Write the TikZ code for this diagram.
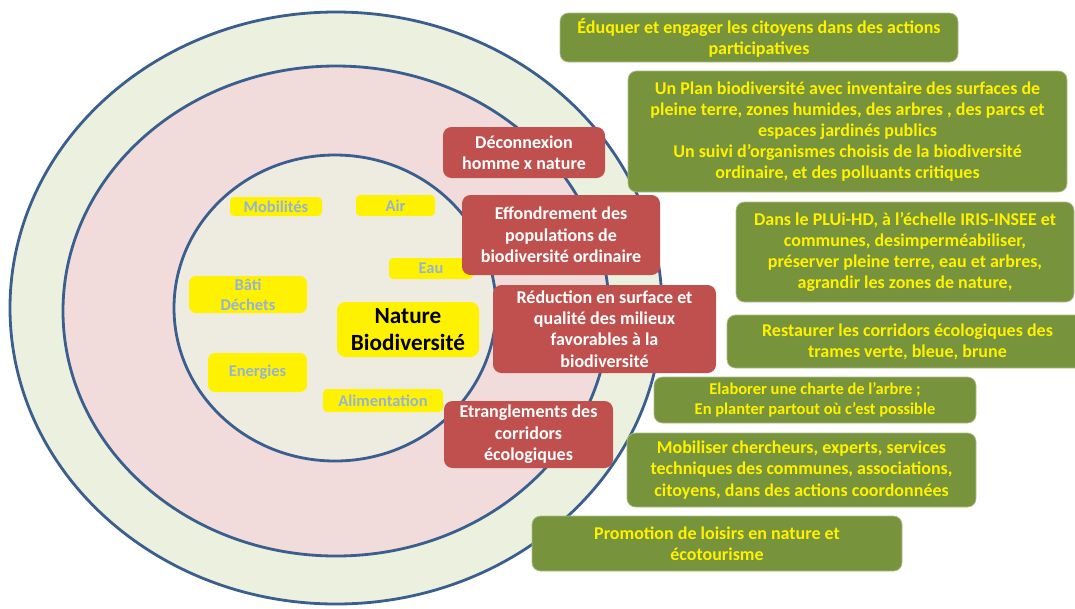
\documentclass[tikz,border=0pt]{standalone}
\usepackage{fontspec}
\setmainfont{Carlito}
\usetikzlibrary{positioning}

\definecolor{ringline}{HTML}{3A5F8E}
\definecolor{outerfill}{HTML}{EBF1DE}
\definecolor{midfill}{HTML}{F2DCDB}
\definecolor{innerfill}{HTML}{EEECE1}
\definecolor{redfill}{HTML}{C0504D}
\definecolor{greenfill}{HTML}{77933C}
\definecolor{labelblue}{HTML}{95B3D7}
\def\pxu{0.025cm}

\tikzset{
  ring/.style={draw=ringline, line width=2pt},
  redbox/.style={fill=redfill, rounded corners=6pt, text=white, align=center,
    inner sep=0pt, font=\bfseries\fontsize{12.8}{15.2}\selectfont},
  greenbox/.style={fill=greenfill, draw=greenfill!60!white, line width=0.5pt,
    rounded corners=6pt, text=yellow, align=center, inner sep=0pt,
    font=\bfseries\fontsize{12.8}{15}\selectfont},
  yellowbox/.style={fill=yellow, rounded corners=3pt, text=labelblue, align=center,
    inner sep=0pt, font=\bfseries\fontsize{11.7}{14.2}\selectfont},
}

\begin{document}
\begin{tikzpicture}[x=\pxu, y=-\pxu]
        \useasboundingbox (0,0) rectangle (1075,608);
        \draw[ring, fill=outerfill] (336,308) ellipse [x radius=326*\pxu, y radius=296*\pxu];
        \draw[ring, fill=midfill] (336,311) ellipse [x radius=273*\pxu, y radius=245*\pxu];
        \draw[ring, fill=innerfill] (335,308) ellipse [x radius=161*\pxu, y radius=153*\pxu];

        \node[yellowbox, minimum width=92*\pxu, minimum height=19*\pxu] (mob) at (276,206.5) {Mobilités};
        \node[yellowbox, minimum width=79*\pxu, minimum height=21*\pxu] (air) at (395.5,205.5) {Air};
        \node[yellowbox, minimum width=84*\pxu, minimum height=21*\pxu] (eau) at (431,268.5) {Eau};
        \node[yellowbox, rounded corners=5pt, minimum width=118*\pxu, minimum height=37*\pxu] (bati) at (248,294.5) {Bâti\\Déchets};
        \node[yellowbox, rounded corners=5pt, minimum width=99*\pxu, minimum height=39*\pxu] (ener) at (257.5,372.5) {Energies};
        \node[yellowbox, minimum width=120*\pxu, minimum height=23*\pxu] (alim) at (383,400.5) {Alimentation};
        \node[yellowbox, rounded corners=6pt, text=black, font=\bfseries\fontsize{16.5}{19.2}\selectfont,
          minimum width=142*\pxu, minimum height=55*\pxu] (nature) at (408,329.5) {Nature\\Biodiversité};

        \node[redbox, minimum width=162*\pxu, minimum height=51*\pxu] (decon) at (524,152.5) {Déconnexion\\homme x nature};
        \node[redbox, minimum width=198*\pxu, minimum height=80*\pxu] (effon) at (561,235) {Effondrement des\\populations de\\biodiversité ordinaire};
        \node[redbox, minimum width=223*\pxu, minimum height=88*\pxu] (reduc) at (604.5,329) {Réduction en surface et\\qualité  des milieux\\favorables à la\\biodiversité};
        \node[redbox, minimum width=169*\pxu, minimum height=67*\pxu] (etran) at (528.5,434.5) {Etranglements des\\corridors\\écologiques};

        \node[greenbox, minimum width=398*\pxu, minimum height=49*\pxu] (eduq) at (759,37.5) {Éduquer et engager  les citoyens dans des actions\\participatives};
        \node[greenbox, minimum width=439*\pxu, minimum height=121*\pxu] (plan) at (847.5,131.5) {Un Plan biodiversité  avec inventaire des surfaces de\\pleine  terre, zones humides,  des arbres , des parcs et\\espaces jardinés publics\\Un suivi d’organismes choisis de la biodiversité\\ordinaire, et des polluants critiques};
        \node[greenbox, minimum width=338*\pxu, minimum height=100*\pxu] (plui) at (905,252) {Dans le PLUi-HD, à l’échelle IRIS-INSEE et\\communes, desimperméabiliser,\\préserver pleine terre, eau  et arbres,\\agrandir les zones de nature,};
        \node[greenbox, minimum width=361*\pxu, minimum height=53*\pxu] (rest) at (907.5,341.5) {Restaurer les corridors écologiques des\\trames verte, bleue, brune};
        \node[greenbox, font=\bfseries\fontsize{11.7}{14}\selectfont, minimum width=322*\pxu, minimum height=46*\pxu] (elab) at (815,400) {Elaborer une  charte de l’arbre ;\\En planter partout où c’est possible};
        \node[greenbox, minimum width=349*\pxu, minimum height=74*\pxu] (mobil) at (801.5,470) {Mobiliser chercheurs, experts, services\\techniques des communes, associations,\\citoyens, dans des actions coordonnées};
        \node[greenbox, minimum width=370*\pxu, minimum height=55*\pxu] (promo) at (717,543.5) {Promotion de  loisirs en nature et\\écotourisme};
\end{tikzpicture}
\end{document}
